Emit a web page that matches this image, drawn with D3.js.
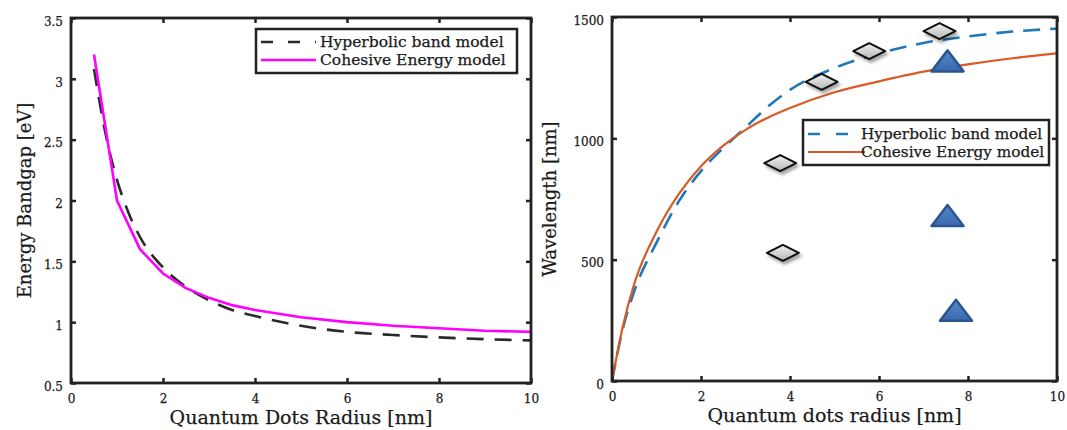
<!DOCTYPE html>
<html>
<head>
<meta charset="utf-8">
<script src="https://cdn.jsdelivr.net/npm/d3@7"></script>
<style>
    body { margin: 0; background: #fff; }
    svg { display: block; }
    text { font-family: "DejaVu Serif", serif; fill: #1a1a1a; stroke: #1a1a1a; stroke-width: 0.25px; }
</style>
</head>
<body>
<svg></svg>
<script>
// left panel: energy bandgap vs radius
const
    radiusHyper = [0.5, 0.75, 1, 1.25, 1.5, 2, 2.5, 3, 3.5, 4, 5, 6, 7, 8, 9, 10],
    bandHyper = [3.08, 2.55, 2.17, 1.9, 1.7, 1.45, 1.29, 1.18, 1.1, 1.05, 0.97, 0.92, 0.895, 0.875, 0.86, 0.85],
    radiusCoh = [0.5, 1, 1.5, 2, 2.5, 3, 3.5, 4, 5, 6, 7, 8, 9, 10],
    bandCoh = [3.2, 2.0, 1.6, 1.4, 1.28, 1.2, 1.14, 1.1, 1.04, 1.0, 0.97, 0.95, 0.93, 0.92]

// right panel: wavelength vs radius
const
    radiusWaveHyper = [0, 0.25, 0.5, 1, 1.5, 2, 2.5, 3, 3.5, 4, 5, 6, 7, 8, 9, 10],
    waveHyper = [0, 220, 370, 570, 740, 865, 960, 1045, 1130, 1200, 1290, 1350, 1393, 1420, 1440, 1452],
    radiusWaveCoh = [0, 0.25, 0.5, 1, 1.5, 2, 2.5, 3, 3.5, 4, 5, 6, 7, 8, 9, 10],
    waveCoh = [0, 230, 400, 615, 770, 885, 970, 1035, 1085, 1125, 1190, 1235, 1275, 1305, 1330, 1350]

// measured points
const
    diamondRadius = [4.71, 5.78, 7.36, 3.78, 3.84],
    diamondWave = [1233, 1359, 1442, 898, 528],
    triangleRadius = [7.54, 7.54, 7.73],
    triangleWave = [1313, 676, 285]

const
    radiusTicks = [0, 2, 4, 6, 8, 10],
    bandTicks = [0.5, 1, 1.5, 2, 2.5, 3, 3.5],
    waveTicks = [0, 500, 1000, 1500],
    legendLabels = ['Hyperbolic band model', 'Cohesive Energy model']

const
    width = 1067,
    height = 430

const svg = d3.select('svg')
    .attr('width', width)
    .attr('height', height)

svg.append('rect').attr('width', width).attr('height', height).attr('fill', '#fff')

const defs = svg.append('defs')

const grayGrad = defs.append('linearGradient').attr('id', 'gray').attr('x1', 0).attr('y1', 0).attr('x2', 0).attr('y2', 1)
grayGrad.append('stop').attr('offset', '0%').attr('stop-color', '#f2f2f2')
grayGrad.append('stop').attr('offset', '100%').attr('stop-color', '#b5b5b5')

const blueGrad = defs.append('linearGradient').attr('id', 'blue').attr('x1', 0).attr('y1', 0).attr('x2', 0).attr('y2', 1)
blueGrad.append('stop').attr('offset', '0%').attr('stop-color', '#5688cc')
blueGrad.append('stop').attr('offset', '100%').attr('stop-color', '#3a69ad')

defs.append('filter').attr('id', 'shadow')
    .attr('x', '-50%').attr('y', '-50%').attr('width', '200%').attr('height', '200%')
    .append('feDropShadow')
    .attr('dx', 2).attr('dy', 3).attr('stdDeviation', 1.8)
    .attr('flood-color', '#000').attr('flood-opacity', 0.35)

const plain = d => String(d)

function frame(g, x, y, box, yTicks) {
    g.append('g')
        .attr('transform', `translate(0,${box.bottom})`)
        .call(d3.axisBottom(x).tickValues(radiusTicks).tickSize(-5).tickPadding(11).tickFormat(plain))
        .call(s => s.select('.domain').remove())
        .call(s => s.selectAll('text').attr('font-size', 12))

    g.append('g')
        .attr('transform', `translate(${box.left},0)`)
        .call(d3.axisLeft(y).tickValues(yTicks).tickSize(-5).tickPadding(8).tickFormat(plain))
        .call(s => s.select('.domain').remove())
        .call(s => s.selectAll('text').attr('font-size', 12).attr('dy', '0.6em'))

    g.append('g')
        .attr('transform', `translate(0,${box.top})`)
        .call(d3.axisTop(x).tickValues(radiusTicks).tickSize(-5).tickFormat(''))
        .call(s => s.select('.domain').remove())

    g.append('g')
        .attr('transform', `translate(${box.right},0)`)
        .call(d3.axisRight(y).tickValues(yTicks).tickSize(-5).tickFormat(''))
        .call(s => s.select('.domain').remove())

    g.selectAll('.tick line').attr('stroke', '#222').attr('stroke-width', 2.5)

    g.append('rect')
        .attr('x', box.left)
        .attr('y', box.top)
        .attr('width', box.right - box.left)
        .attr('height', box.bottom - box.top)
        .attr('fill', 'none')
        .attr('stroke', '#222')
        .attr('stroke-width', 2.8)
}

function legend(g, lg, colors, dashes, widths) {
    g.append('rect')
        .attr('x', lg.x).attr('y', lg.y)
        .attr('width', lg.w).attr('height', lg.h)
        .attr('fill', '#fff').attr('stroke', '#222').attr('stroke-width', 2.5)

    legendLabels.forEach((label, i) => {
        const cy = lg.y + lg.rowTop + i * lg.rowGap
        g.append('line')
            .attr('x1', lg.x + 5).attr('x2', lg.x + lg.sample)
            .attr('y1', cy).attr('y2', cy)
            .attr('stroke', colors[i]).attr('stroke-width', widths[i])
            .attr('stroke-dasharray', dashes[i])
        g.append('text')
            .attr('x', lg.x + lg.textX)
            .attr('y', cy + 5)
            .attr('font-size', lg.font)
            .text(label)
    })
}

// ---------- left panel ----------
const boxL = { left: 71, right: 531, top: 18, bottom: 383 }

const xL = d3.scaleLinear().domain([0, 10]).range([boxL.left, boxL.right])
const yL = d3.scaleLinear().domain([0.5, 3.5]).range([boxL.bottom, boxL.top])

const left = svg.append('g')

left.append('path')
    .attr('d', d3.line().curve(d3.curveMonotoneX).x((d, i) => xL(radiusHyper[i])).y(d => yL(d))(bandHyper))
    .attr('fill', 'none')
    .attr('stroke', '#2a2a2a')
    .attr('stroke-width', 2.6)
    .attr('stroke-dasharray', '17,11')

left.append('path')
    .attr('d', d3.line().x((d, i) => xL(radiusCoh[i])).y(d => yL(d))(bandCoh))
    .attr('fill', 'none')
    .attr('stroke', '#ff00ff')
    .attr('stroke-width', 2.6)

frame(left, xL, yL, boxL, bandTicks)

legend(left, { x: 256, y: 29, w: 261, h: 44, rowTop: 13, rowGap: 18, sample: 60, textX: 64, font: 15.5 },
    ['#2a2a2a', '#ff00ff'], ['12,15', null], [2.6, 2.6])

left.append('text')
    .attr('x', (boxL.left + boxL.right) / 2)
    .attr('y', 424)
    .attr('text-anchor', 'middle')
    .attr('font-size', 19)
    .text('Quantum Dots Radius [nm]')

left.append('text')
    .attr('transform', `translate(31,${(boxL.top + boxL.bottom) / 2}) rotate(-90)`)
    .attr('text-anchor', 'middle')
    .attr('font-size', 18)
    .text('Energy Bandgap [eV]')

// ---------- right panel ----------
const boxR = { left: 612, right: 1057, top: 17, bottom: 381 }

const xR = d3.scaleLinear().domain([0, 10]).range([boxR.left, boxR.right])
const yR = d3.scaleLinear().domain([0, 1500]).range([boxR.bottom, boxR.top])

const right = svg.append('g')

const curveR = (xs, ys) => d3.line()
    .curve(d3.curveMonotoneX)
    .x((d, i) => xR(xs[i]))
    .y(d => yR(d))(ys)

right.append('path')
    .attr('d', curveR(radiusWaveHyper, waveHyper))
    .attr('fill', 'none')
    .attr('stroke', '#1f78b8')
    .attr('stroke-width', 2.6)
    .attr('stroke-dasharray', '17,10')

right.append('path')
    .attr('d', curveR(radiusWaveCoh, waveCoh))
    .attr('fill', 'none')
    .attr('stroke', '#d95a24')
    .attr('stroke-width', 2.2)

right.append('g')
    .selectAll('path')
    .data(diamondRadius)
    .enter().append('path')
    .attr('d', 'M-16,0 L0,-8 L16,0 L0,8 Z')
    .attr('transform', (d, i) => `translate(${xR(d)},${yR(diamondWave[i])})`)
    .attr('fill', 'url(#gray)')
    .attr('stroke', '#111')
    .attr('stroke-width', 2)
    .attr('stroke-linejoin', 'round')
    .attr('filter', 'url(#shadow)')

right.append('g')
    .selectAll('path')
    .data(triangleRadius)
    .enter().append('path')
    .attr('d', 'M-16,9 L0,-12 L16,9 Z')
    .attr('transform', (d, i) => `translate(${xR(d)},${yR(triangleWave[i])})`)
    .attr('fill', 'url(#blue)')
    .attr('stroke', '#2c5590')
    .attr('stroke-width', 2.5)
    .attr('stroke-linejoin', 'round')

frame(right, xR, yR, boxR, waveTicks)

legend(right, { x: 803, y: 120, w: 246, h: 45, rowTop: 14, rowGap: 18, sample: 62, textX: 58, font: 15.3 },
    ['#1f78b8', '#d95a24'], ['12,16', null], [2.6, 2.2])

right.append('text')
    .attr('x', (boxR.left + boxR.right) / 2)
    .attr('y', 422)
    .attr('text-anchor', 'middle')
    .attr('font-size', 19)
    .text('Quantum dots radius [nm]')

right.append('text')
    .attr('transform', `translate(556,${(boxR.top + boxR.bottom) / 2}) rotate(-90)`)
    .attr('text-anchor', 'middle')
    .attr('font-size', 18)
    .text('Wavelength [nm]')
</script>
</body>
</html>
